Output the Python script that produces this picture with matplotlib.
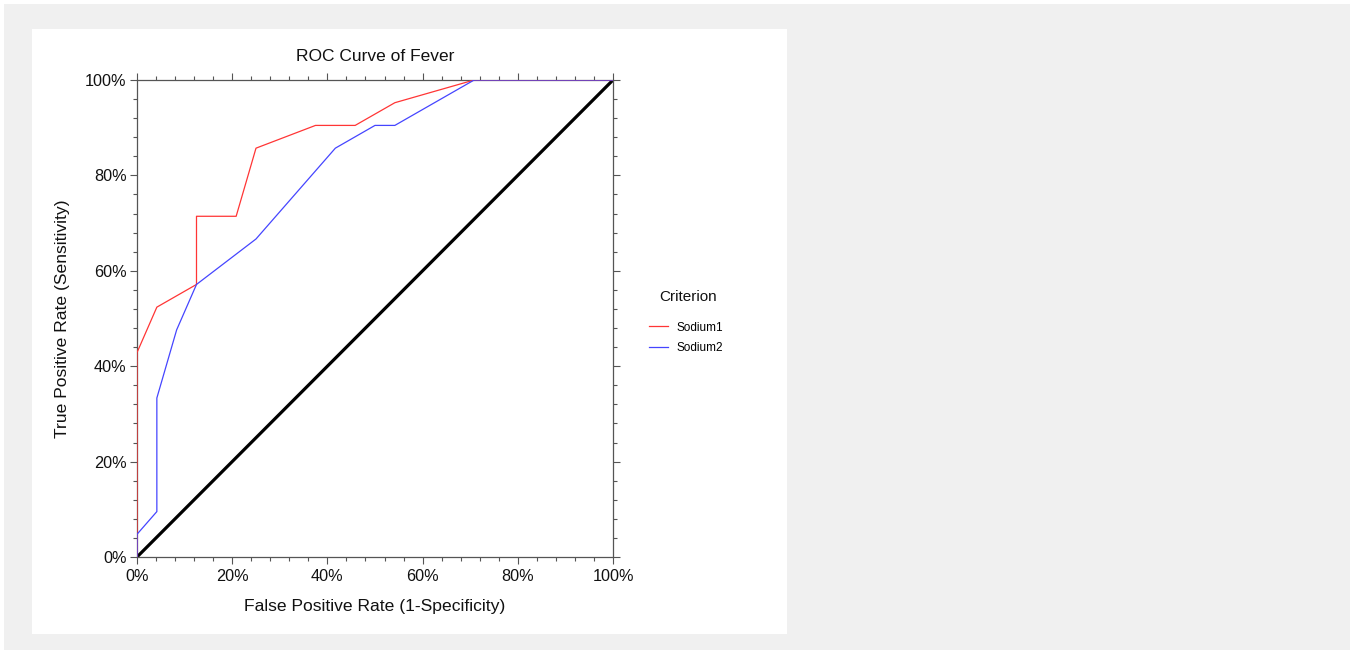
import matplotlib
matplotlib.use("Agg")
import matplotlib.pyplot as plt
from matplotlib.patches import Rectangle
from matplotlib.ticker import MultipleLocator, PercentFormatter

plt.rcParams['font.family'] = ['Liberation Sans', 'DejaVu Sans']

# ROC points (false positive rate, true positive rate) in percent
sodium1_fpr = [0, 0, 4.17, 12.5, 12.5, 20.83, 25.0, 37.5, 45.83, 54.17, 70.83, 100]
sodium1_tpr = [0, 42.86, 52.38, 57.14, 71.43, 71.43, 85.71, 90.48, 90.48, 95.24, 100, 100]

sodium2_fpr = [0, 0, 4.17, 4.17, 8.33, 12.5, 25.0, 41.67, 50.0, 54.17, 70.83, 100]
sodium2_tpr = [0, 4.76, 9.52, 33.33, 47.62, 57.14, 66.67, 85.71, 90.48, 90.48, 100, 100]

chance = [0, 100]
series_names = ["Sodium1", "Sodium2"]

W, H = 1354, 654
fig = plt.figure(figsize=(W / 100, H / 100), dpi=100, facecolor="white")

# background frame and white panel
fig.patches.append(Rectangle((4 / W, 4 / H), (1350 - 4) / W, (650 - 4) / H,
                             transform=fig.transFigure, facecolor="#f0f0f0",
                             edgecolor="none", zorder=-10))
fig.patches.append(Rectangle((32 / W, (H - 634) / H), (787 - 32) / W, (634 - 29) / H,
                             transform=fig.transFigure, facecolor="white",
                             edgecolor="none", zorder=-9))

x0, x1, y0, y1 = 137, 613, 80, 557
ax = fig.add_axes([x0 / W, (H - y1) / H, (x1 - x0) / W, (y1 - y0) / H])
ax.set_facecolor("white")

ax.plot(chance, chance, color="black", lw=2.3, zorder=2, solid_capstyle="butt")
ax.plot(sodium1_fpr, sodium1_tpr, color="#ff3535", lw=0.9, label=series_names[0], zorder=3)
ax.plot(sodium2_fpr, sodium2_tpr, color="#4545ff", lw=0.9, label=series_names[1], zorder=3)

ax.set_xlim(0, 100)
ax.set_ylim(0, 100)
for a in (ax.xaxis, ax.yaxis):
    a.set_major_locator(MultipleLocator(20))
    a.set_minor_locator(MultipleLocator(4))
    a.set_major_formatter(PercentFormatter(decimals=0))

spine_col = "#555555"
for s in ax.spines.values():
    s.set_color(spine_col)
    s.set_linewidth(0.9)
ax.tick_params(which="both", direction="out", top=True, right=True,
               labeltop=False, labelright=False, color=spine_col, width=0.8)
ax.tick_params(which="major", length=5, labelsize=11.7)
ax.tick_params(axis="x", which="major", pad=3.5)
ax.tick_params(axis="y", which="major", pad=2.5)
ax.tick_params(which="minor", length=3)
for lab in ax.get_xticklabels() + ax.get_yticklabels():
    lab.set_color("#111111")

ax.set_title("ROC Curve of Fever", fontsize=12.5, pad=13.5, color="#111111")
ax.set_xlabel("False Positive Rate (1-Specificity)", fontsize=12.6, labelpad=11, color="#111111")
ax.set_ylabel("True Positive Rate (Sensitivity)", fontsize=12.6, labelpad=11, color="#111111")

# legend entries and a separate heading above them
leg = ax.legend(loc="upper left", bbox_to_anchor=(638 / W, (H - 311) / H),
                bbox_transform=fig.transFigure, frameon=False, fontsize=8.5,
                handlelength=1.6, handletextpad=0.8, labelspacing=0.72)
fig.text(688 / W, (H - 297) / H, "Criterion", fontsize=11, color="#111111",
         ha="center", va="center")

fig.savefig("out.png", dpi=100, facecolor=fig.get_facecolor())
